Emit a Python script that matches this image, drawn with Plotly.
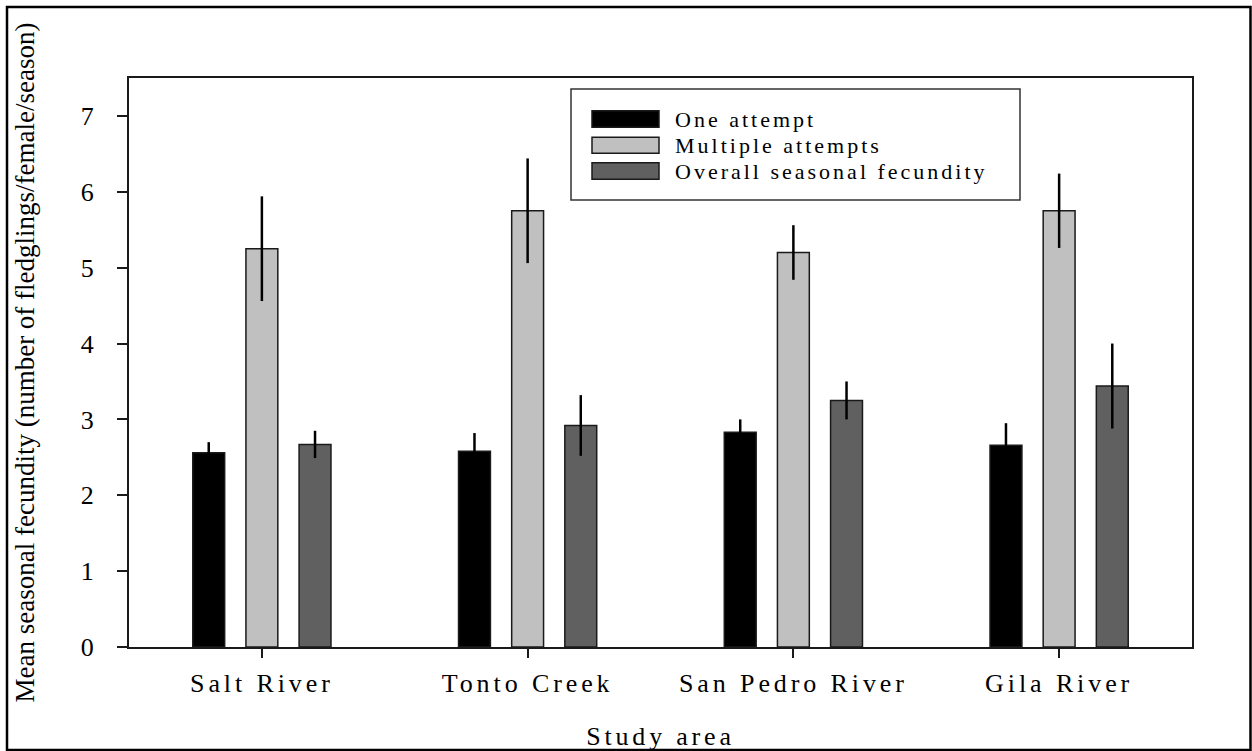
import plotly.graph_objects as go

# ---- data ----
areas = ["Salt River", "Tonto Creek", "San Pedro River", "Gila River"]
series_names = ["One attempt", "Multiple attempts", "Overall seasonal fecundity"]
one_attempt = [2.56, 2.58, 2.83, 2.66]
one_attempt_err = [0.14, 0.24, 0.17, 0.29]
multiple_attempts = [5.25, 5.75, 5.20, 5.75]
multiple_attempts_err = [0.69, 0.69, 0.36, 0.49]
overall = [2.67, 2.92, 3.25, 3.44]
overall_err = [0.18, 0.40, 0.25, 0.56]
y_ticks = [0, 1, 2, 3, 4, 5, 6, 7]

colors = ["#000000", "#c0c0c0", "#606060"]
values = [one_attempt, multiple_attempts, overall]
errors = [one_attempt_err, multiple_attempts_err, overall_err]

W, H = 1252, 751
L, R, T, B = 129, 60, 78, 104
PW, PH = W - L - R, H - T - B
FONT = "Liberation Serif"


def px(x):
    return (x - L) / PW


def py(y):
    return (H - B - y) / PH


fig = go.Figure()
for name, vals, errs, col in zip(series_names, values, errors, colors):
    fig.add_trace(go.Bar(
        x=areas, y=vals, name=name,
        marker=dict(color=col, line=dict(color="#1a1a1a", width=1.5)),
        error_y=dict(type="data", array=errs, visible=True, width=0,
                     thickness=2.5, color="#000000"),
        showlegend=False,
    ))

shapes = []
annotations = []
# outer frame
shapes.append(dict(type="rect", xref="paper", yref="paper",
                   x0=px(7), x1=px(1250.5), y0=py(750), y1=py(7),
                   line=dict(color="#000000", width=2.5), fillcolor="rgba(0,0,0,0)", layer="below"))
# legend box
shapes.append(dict(type="rect", xref="paper", yref="paper",
                   x0=px(571), x1=px(1020), y0=py(200), y1=py(89),
                   line=dict(color="#333333", width=1.5), fillcolor="rgba(0,0,0,0)"))
rows = [(110.7, 127.3), (137.3, 153.3), (162.7, 179.3)]
for (ya, yb), name, col in zip(rows, series_names, colors):
    shapes.append(dict(type="rect", xref="paper", yref="paper",
                       x0=px(592), x1=px(659), y0=py(yb), y1=py(ya),
                       line=dict(color="#1a1a1a", width=1.5), fillcolor=col))
    annotations.append(dict(xref="paper", yref="paper", x=px(673), y=py((ya + yb) / 2),
                            text=name, showarrow=False, xanchor="left", yanchor="middle",
                            align="left",
                            font=dict(family=FONT, size=22, color="#000000")))

fig.update_layout(
    width=W, height=H, autosize=False,
    margin=dict(l=L, r=R, t=T, b=B, autoexpand=False),
    paper_bgcolor="white", plot_bgcolor="white",
    barmode="group", bargap=0.40, bargroupgap=0.40,
    font=dict(family=FONT, color="#000000"),
    shapes=shapes, annotations=annotations,
    xaxis=dict(
        automargin=False,
        showline=True, mirror=True, linecolor="#1a1a1a", linewidth=2,
        ticks="outside", ticklen=9, tickwidth=2, tickcolor="#1a1a1a",
        tickfont=dict(size=26, family=FONT),
        ticklabelstandoff=3,
        title=dict(text="Study area", font=dict(size=26, family=FONT), standoff=30),
        showgrid=False,
    ),
    yaxis=dict(
        automargin=False,
        range=[0, 7.5], tickvals=y_ticks,
        showline=True, mirror=True, linecolor="#1a1a1a", linewidth=2,
        ticks="outside", ticklen=10, tickwidth=2, tickcolor="#1a1a1a",
        tickfont=dict(size=26, family=FONT),
        ticklabelstandoff=18,
        title=dict(text="Mean seasonal fecundity (number of fledglings/female/season)",
                   font=dict(size=27, family=FONT), standoff=38),
        showgrid=False, zeroline=False,
    ),
)

post = """
var gd = document.getElementById('{plot_id}');
function ls(){
  gd.querySelectorAll('.xtick text').forEach(function(e){e.style.letterSpacing='3.9px';});
  gd.querySelectorAll('.g-xtitle text').forEach(function(e){e.style.letterSpacing='3.8px';});
  gd.querySelectorAll('.annotation-text').forEach(function(e){e.style.letterSpacing='3px';});
}
ls();
gd.on('plotly_afterplot', ls);
setTimeout(ls, 50);
setTimeout(ls, 300);
"""

fig.write_html("out.html", include_plotlyjs=True, post_script=post)
